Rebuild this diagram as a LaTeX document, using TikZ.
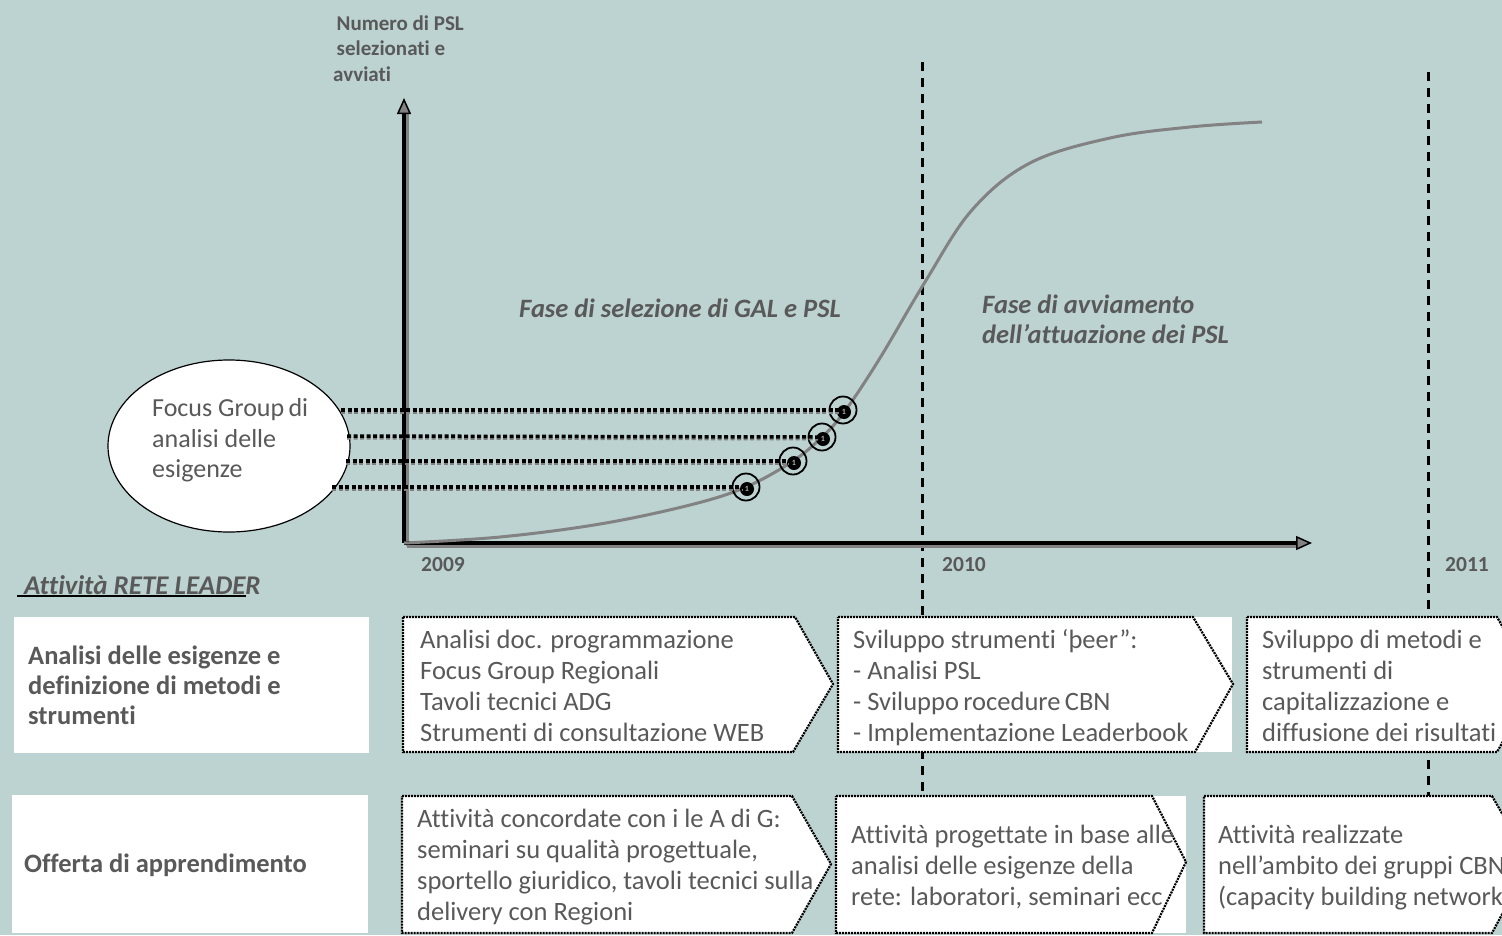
\documentclass[tikz,border=0pt]{standalone}
\usepackage{fontspec}
\setmainfont[Ligatures=NoCommon]{Carlito}
\usetikzlibrary{arrows.meta,shapes.geometric,calc}
\definecolor{bg}{RGB}{188,211,209}
\definecolor{txt}{RGB}{89,89,89}
\definecolor{curvegray}{RGB}{130,130,130}
\tikzset{
  chev/.style={draw=black, line width=2.2pt, dash pattern=on 2pt off 1pt, fill=white},
  btxt/.style={anchor=west, inner sep=0pt, align=left, text=txt,
    font=\fontsize{26.5}{31}\selectfont,
    execute at begin node=\strut, execute at end node=\strut},
  ltxt/.style={anchor=west, inner sep=0pt, align=left, text=txt,
    font=\fontsize{26.5}{30}\selectfont\bfseries,
    execute at begin node=\strut, execute at end node=\strut},
  yeartxt/.style={inner sep=0pt, text=txt, font=\fontsize{21.5}{24}\selectfont\bfseries},
  phasetxt/.style={inner sep=0pt, align=left, text=txt,
    font=\fontsize{26.5}{30}\selectfont\bfseries\itshape,
    execute at begin node=\strut, execute at end node=\strut},
  vdash/.style={draw=black, line width=3pt, dash pattern=on 9pt off 7pt},
  ring/.style={circle, draw=black, line width=1.8pt, minimum size=27pt, inner sep=0pt},
  dotn/.style={circle, fill=black, text=gray!60, inner sep=0pt, minimum size=14pt,
    font=\fontsize{8}{8}\selectfont\bfseries},
  hdot/.style={draw=black, line width=3.5pt, dash pattern=on 4pt off 2.5pt},
  hdotshadow/.style={draw=gray, line width=2pt, dash pattern=on 4pt off 2.5pt},
  whitebox/.style={fill=white, draw=none},
}
\begin{document}
\begin{tikzpicture}[x=1pt,y=-1pt]
\useasboundingbox (0,0) rectangle (1502,935);
\clip (0,0) rectangle (1502,935);
\fill[bg] (0,0) rectangle (1502,935);

% vertical dashed year lines
\coordinate (v1top) at (922,62);
\coordinate (v1bot) at (922,800);
\coordinate (v2top) at (1428,72);
\coordinate (v2bot) at (1428,796);
\draw[vdash] (v1top) -- (v1bot);
\draw[vdash] (v2top) -- (v2bot);

% axis label
\node[anchor=west, inner sep=0pt, align=left, text=txt, font=\fontsize{21}{25.5}\selectfont\bfseries,
  execute at begin node=\strut, execute at end node=\strut] (ylab) at (333,52)
  {\,Numero di PSL\\\,selezionati e\\avviati};

% axes
\coordinate (o) at (404,543);
\coordinate (ytip) at (404,98);
\coordinate (xtip) at (1312,543);
\draw[curvegray, line width=3pt] ($(o)+(3,3)$) -- ($(xtip)+(-10,3)$);
\draw[curvegray, line width=3pt] ($(o)+(3,3)$) -- ($(ytip)+(3,14)$);
\draw[line width=3.5pt, -{Triangle[length=16pt, width=14pt, line width=1.5pt, fill=curvegray]}] (o) -- (ytip);
\draw[line width=3.5pt, -{Triangle[length=16pt, width=14pt, line width=1.5pt, fill=curvegray]}] (o) -- (xtip);

% S-curve
\draw[curvegray, line width=3pt] plot[smooth, tension=0.6] coordinates
  {(404,543) (500,537) (600,524) (690,505) (746,487) (793,461) (822,437) (845,411)
   (880,358) (925,282) (972,210) (1030,163) (1110,138) (1190,127) (1262,122)};

% year labels
\node[yeartxt] (y2009) at (443,565) {2009};
\node[yeartxt] (y2010) at (964,565) {2010};
\node[yeartxt] (y2011) at (1467,565) {2011};

% phase labels
\node[phasetxt, anchor=center] (ph1) at (680,311) {Fase di selezione di GAL e PSL};
\node[phasetxt, anchor=west] (ph2) at (982,324) {Fase di avviamento\\dell’attuazione dei PSL};

% focus group ellipse
\node[ellipse, draw=black, line width=1.2pt, fill=white, minimum width=242pt, minimum height=172pt] (ell) at (229,446) {};
\node[anchor=west, inner sep=0pt, align=left, text=txt, font=\fontsize{26}{30.5}\selectfont,
  execute at begin node=\strut, execute at end node=\strut] (elltxt) at (152,443)
  {Focus Group\,di\\analisi delle\\esigenze};

% circles on the curve
\node[ring] (c1) at (843,410) {};
\node[ring] (c2) at (822,437) {};
\node[ring] (c3) at (793,461) {};
\node[ring] (c4) at (746,487) {};
\node[dotn] (d1) at ($(c1)+(1,2)$) {1};
\node[dotn] (d2) at ($(c2)+(1,2)$) {1};
\node[dotn] (d3) at ($(c3)+(1,2)$) {1};
\node[dotn] (d4) at ($(c4)+(1,2)$) {1};

% dotted links from ellipse to circles
\coordinate (e1) at (341,410);
\coordinate (e2) at (347,436);
\coordinate (e3) at (346,461);
\coordinate (e4) at (332,487);
\foreach \e/\d in {e1/c1,e2/c2,e3/c3,e4/c4}{
  \draw[hdotshadow] ($(\e)+(0,2.5)$) -- ($(\d.center)+(-4,2.5)$);
  \draw[hdot] (\e) -- ($(\d.center)+(-4,0)$);
}

% Attività RETE LEADER
\node[anchor=west, inner sep=0pt, text=txt, font=\fontsize{27}{30}\selectfont\bfseries\itshape] (rl) at (24,585) {Attività RETE LEADER};
\coordinate (ul1) at (17,596);
\coordinate (ul2) at (246,596);
\draw[line width=2pt] (ul1) -- (ul2);

% left white boxes
\fill[whitebox] (14,617) rectangle (369,753);
\fill[whitebox] (12,795) rectangle (368,933);
\node[ltxt] (l1) at (28,690) {Analisi delle esigenze e\\definizione di metodi e\\strumenti};
\node[ltxt] (l2) at (24,866) {Offerta di apprendimento};

% row 1 chevrons
\draw[chev] (403,617) -- (795,617) -- (833,684) -- (793,752) -- (403,752) -- cycle;
\fill[white] (838,617) rectangle (1232,752);
\draw[chev, fill=none] (838,617) -- (1193,617) -- (1233,684) -- (1195,752) -- (838,752) -- cycle;
\draw[chev] (1247,617) -- (1497,617) -- (1535,684) -- (1497,752) -- (1247,752) -- cycle;

\node[btxt] (a1) at (420,690) {Analisi doc. programmazione\\Focus Group Regionali\\Tavoli tecnici ADG\\Strumenti di consultazione WEB};
\node[btxt] (b1) at (853,690) {Sviluppo strumenti ‘þeer”:\\- Analisi PSL\\- Sviluppo\,rocedure\,CBN\\- Implementazione Leaderbook};
\node[btxt] (c1t) at (1262,690) {Sviluppo di metodi e\\strumenti di\\capitalizzazione e\\diffusione dei risultati};

% row 2 chevrons
\draw[chev] (402,796) -- (792,796) -- (831,864) -- (792,933) -- (402,933) -- cycle;
\fill[white] (836,796) rectangle (1186,933);
\draw[chev, fill=none] (836,796) -- (1152,796) -- (1186,862) -- (1152,933) -- (836,933) -- cycle;
\draw[chev] (1204,796) -- (1492,796) -- (1530,862) -- (1492,933) -- (1204,933) -- cycle;

\node[btxt] (a2) at (417,869.5) {Attività concordate con i le A di G:\\seminari su qualità progettuale,\\sportello giuridico, tavoli tecnici sulla\\delivery con Regioni};
\node[btxt] (b2) at (851,870) {Attività progettate in base alle\\analisi delle esigenze della\\rete: laboratori, seminari ecc};
\node[btxt] (c2t) at (1218,870) {Attività realizzate\\nell’ambito dei gruppi CBN\\(capacity building network)};
\end{tikzpicture}
\end{document}
